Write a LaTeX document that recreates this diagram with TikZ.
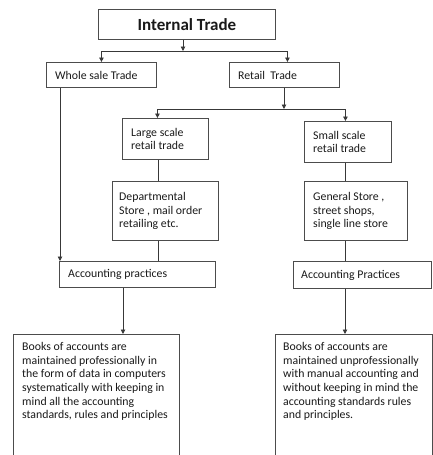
\documentclass[tikz,border=0pt]{standalone}
\usepackage{fontspec}
\setmainfont{Carlito}
\usetikzlibrary{arrows.meta}
\newcommand\mkbox[5]{\node[bx,minimum width={#4-#2},minimum height={#5-#3}] (#1) at (#2,#3) {};}
\begin{document}
\begin{tikzpicture}[x=1pt,y=-1pt,
  bx/.style={draw=black!70,line width=0.9pt,inner sep=0pt,anchor=north west},
  txt/.style={font=\fontsize{11.8}{13.7}\selectfont,inner sep=0pt,align=left,text=black!90},
  ln/.style={draw=black!78,line width=0.9pt},
  arr/.style={ln,-{Triangle[length=4.5pt,width=4.5pt]}}]
\useasboundingbox (0,0) rectangle (433,455);
\clip (0,0) rectangle (433,455);
% boxes
\mkbox{it}{98}{9}{275}{39}
\mkbox{ws}{46}{62}{156}{87}
\mkbox{rt}{229}{62}{339}{87}
\mkbox{ls}{122}{118}{208}{159}
\mkbox{ss}{304}{121}{391}{162}
\mkbox{ds}{112}{181}{218}{240}
\mkbox{gs}{304}{181}{407}{240}
\mkbox{apl}{59}{261}{215}{287}
\mkbox{apr}{293}{261}{431}{288}
\mkbox{bl}{13}{334}{179}{470}
\mkbox{br}{275}{334}{432}{470}
% texts
\node[inner sep=0pt,text=black!90,font=\bfseries\fontsize{17}{20}\selectfont] (itt) at (it.center) {Internal Trade};
\node[txt,anchor=west] (wst) at ([xshift=9pt]ws.west) {Whole sale Trade};
\node[txt,anchor=west] (rtt) at ([xshift=9pt]rt.west) {Retail\ \ Trade};
\node[txt,anchor=west] (lst) at ([xshift=9pt]ls.west) {Large scale\\retail trade};
\node[txt,anchor=west] (sst) at ([xshift=9pt]ss.west) {Small scale\\retail trade};
\node[txt,anchor=west] (dst) at ([xshift=7pt]ds.west) {Departmental\\Store , mail order\\retailing etc.};
\node[txt,anchor=west] (gst) at ([xshift=9pt]gs.west) {General Store ,\\street shops,\\single line store};
\node[txt,anchor=west] (aplt) at ([xshift=9pt]apl.west) {Accounting practices};
\node[txt,anchor=west] (aprt) at ([xshift=8pt]apr.west) {Accounting Practices};
\node[txt,anchor=north west] (blt) at ([xshift=9pt,yshift=-8pt]bl.north west) {Books of accounts are\\maintained professionally in\\the form of data in computers\\systematically with keeping in\\mind all the accounting\\standards, rules and principles};
\node[txt,anchor=north west] (brt) at ([xshift=8pt,yshift=-8pt]br.north west) {Books of accounts are\\maintained unprofessionally\\with manual accounting and\\without keeping in mind the\\accounting standards rules\\and principles.};
% connectors
\coordinate (j1) at (183,51);
\draw[arr] (it.south -| j1) -- (j1);
\draw[arr] (j1) -| (ws.north);
\draw[arr] (j1) -| ([xshift=3pt]rt.north);
\coordinate (j2) at (284,109);
\draw[arr] (rt.south -| j2) -- (j2);
\draw[arr] (j2) -| ([xshift=-8pt]ls.north);
\draw[arr] (j2) -| ([xshift=-2.5pt]ss.north);
\coordinate (c0) at (60,0);
\coordinate (c1) at (158,0);
\coordinate (c2) at (123,0);
\coordinate (c3) at (345,0);
\draw[ln] (ls.south -| c1) -- (ds.north -| c1);
\draw[ln] (ds.south -| c1) -- (apl.north -| c1);
\draw[arr] (ws.south -| c0) -- (apl.north -| c0);
\draw[arr] (apl.south -| c2) -- (bl.north -| c2);
\draw[ln] (ss.south -| c3) -- (gs.north -| c3);
\draw[ln] (gs.south -| c3) -- (apr.north -| c3);
\draw[arr] (apr.south -| c3) -- (br.north -| c3);
\end{tikzpicture}
\end{document}
